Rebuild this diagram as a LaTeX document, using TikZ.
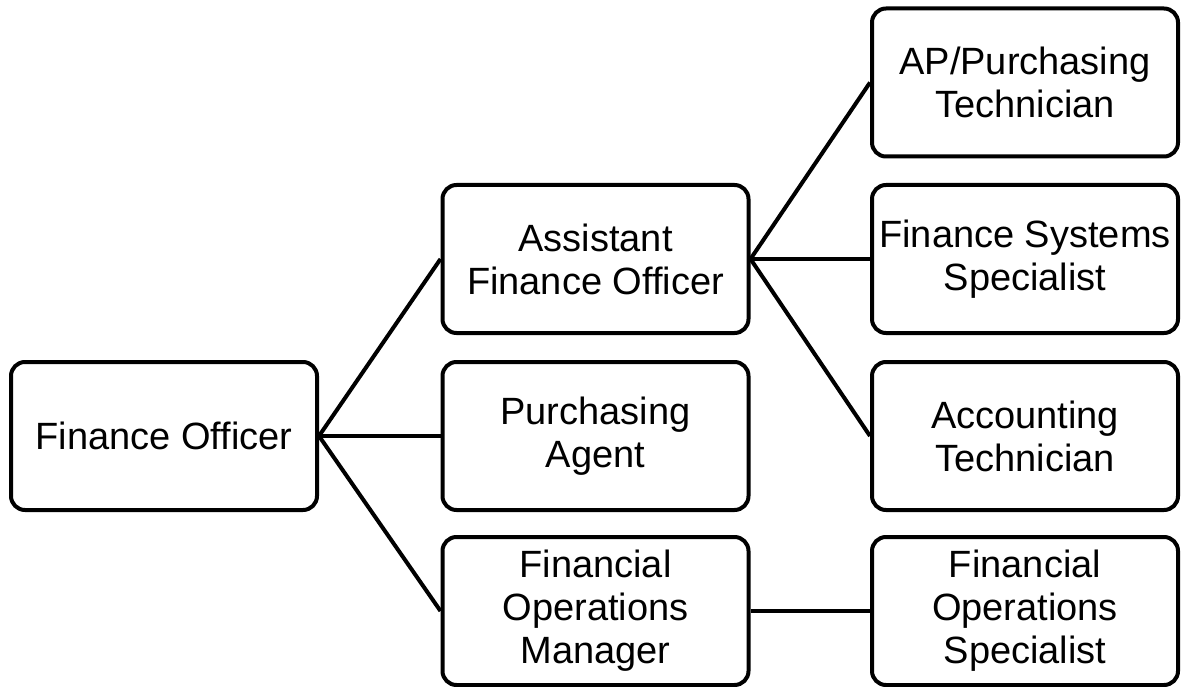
\documentclass[tikz,border=0pt]{standalone}
\usepackage{fontspec}
\setmainfont{Liberation Sans}
\begin{document}
\begin{tikzpicture}[x=1pt, y=1pt, every node/.style={font=\fontsize{38}{43}\selectfont},
  role/.style={draw,line width=4pt,rounded corners=14pt,minimum width=306pt,minimum height=148pt,align=center,inner sep=0pt},
  link/.style={line width=4pt}]
  \useasboundingbox (0,0) rectangle (1188,-687);
  \node[role] (fo) at (164,-436) {Finance Officer};
  % middle column
  \node[role] (afo) at (595.5,-259) {Assistant\\Finance Officer};
  \node[role] (pa) at (595.5,-436) {Purchasing\\Agent};
  \node[role] (fom) at (595.5,-611) {Financial\\Operations\\Manager};
  % right column
  \node[role] (apt) at (1025,-82.5) {AP/Purchasing\\Technician};
  \node[role] (fss) at (1025,-259) {Finance Systems\\Specialist};
  \node[role] (at) at (1025,-436) {Accounting\\Technician};
  \node[role] (fos) at (1025,-611) {Financial\\Operations\\Specialist};
  \draw[link] (fo.east) -- (afo.west);
  \draw[link] (fo.east) -- (pa.west);
  \draw[link] (fo.east) -- (fom.west);
  \draw[link] (afo.east) -- (apt.west);
  \draw[link] (afo.east) -- (fss.west);
  \draw[link] (afo.east) -- (at.west);
  \draw[link] (fom.east) -- (fos.west);
\end{tikzpicture}
\end{document}
